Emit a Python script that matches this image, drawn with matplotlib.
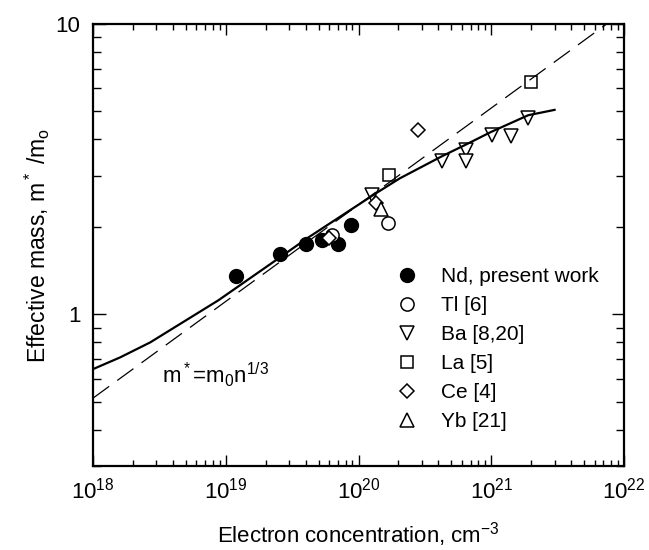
import matplotlib
matplotlib.use("Agg")
import matplotlib.pyplot as plt
from matplotlib.ticker import LogLocator, NullFormatter, FixedLocator, FixedFormatter

plt.rcParams["font.family"] = ["Liberation Sans", "DejaVu Sans"]
plt.rcParams["mathtext.fontset"] = "custom"
plt.rcParams["mathtext.rm"] = "Liberation Sans"
plt.rcParams["mathtext.it"] = "Liberation Sans"
plt.rcParams["mathtext.default"] = "regular"

# Nd, present work
nd_n = [1.19e19, 2.56e19, 4.0e19, 5.3e19, 7.0e19, 8.8e19]
nd_m = [1.35, 1.61, 1.75, 1.80, 1.75, 2.03]

# literature data
tl_n = [6.3e19, 1.68e20]
tl_m = [1.88, 2.06]

ba_n = [1.26e20, 4.24e20, 6.5e20, 6.5e20, 1.01e21, 1.40e21, 1.90e21]
ba_m = [2.58, 3.36, 3.69, 3.36, 4.15, 4.12, 4.73]

la_n = [1.70e20, 2.0e21]
la_m = [3.02, 6.29]

ce_n = [6.0e19, 1.35e20, 2.79e20]
ce_m = [1.83, 2.42, 4.31]

yb_n = [1.48e20]
yb_m = [2.31]

# solid model curve
fit_n = [1e18, 1.6e18, 2.7e18, 8.8e18, 2.56e19, 4.2e19, 1.37e20, 2.05e20,
         4.24e20, 6.5e20, 1.0e21, 1.9e21, 3.0e21]
fit_m = [0.647, 0.71, 0.80, 1.117, 1.57, 1.84, 2.62, 2.94,
         3.50, 3.85, 4.25, 4.85, 5.06]

# dashed m* = m0 n^(1/3) line, end points
dash_n = [1e18, 7.4e21]
dash_m = [0.514, 10.0]

x_ticks = [1e18, 1e19, 1e20, 1e21, 1e22]
x_labels = ["$10^{18}$", "$10^{19}$", "$10^{20}$", "$10^{21}$", "$10^{22}$"]
y_ticks = [1, 10]
y_labels = ["1", "10"]

fig = plt.figure(figsize=(6.49, 5.5), dpi=100)
ax = fig.add_axes([93 / 649, 1 - 466 / 550, 531 / 649, 442 / 550])

ax.set_xscale("log")
ax.set_yscale("log")
ax.set_xlim(1e18, 1e22)
ax.set_ylim(0.3, 10)

mk = dict(linestyle="none", markerfacecolor="white", markeredgecolor="black",
          markeredgewidth=1.1)

ax.plot(nd_n, nd_m, "o", color="black", markersize=10, linestyle="none",
        label="Nd, present work", zorder=3)
ax.plot(tl_n, tl_m, "o", markersize=9.5, label="Tl [6]", zorder=3, **mk)
ax.plot(ba_n, ba_m, "v", markersize=10, label="Ba [8,20]", zorder=3, **mk)
ax.plot(la_n, la_m, "s", markersize=8.5, label="La [5]", zorder=3, **mk)
ax.plot(ce_n, ce_m, "D", markersize=7.5, label="Ce [4]", zorder=3, **mk)
ax.plot(yb_n, yb_m, "^", markersize=10, label="Yb [21]", zorder=3, **mk)

ax.plot(fit_n, fit_m, color="black", linewidth=1.6, zorder=4)
ax.plot(dash_n, dash_m, color="black", linewidth=0.9, dashes=(16, 8), zorder=4)

ax.text(3.3e18, 0.58, "m$^*$=m$_0$n$^{1/3}$", fontsize=16,
        ha="left", va="baseline")

ax.xaxis.set_major_locator(FixedLocator(x_ticks))
ax.xaxis.set_major_formatter(FixedFormatter(x_labels))
ax.xaxis.set_minor_locator(LogLocator(base=10, subs=range(2, 10), numticks=20))
ax.xaxis.set_minor_formatter(NullFormatter())
ax.yaxis.set_major_locator(FixedLocator(y_ticks))
ax.yaxis.set_major_formatter(FixedFormatter(y_labels))
ax.yaxis.set_minor_locator(LogLocator(base=10, subs=range(2, 10), numticks=20))
ax.yaxis.set_minor_formatter(NullFormatter())

ax.tick_params(which="both", direction="in", top=True, right=True,
               width=1, labelsize=16)
ax.tick_params(axis="x", which="major", length=8, pad=8)
ax.tick_params(axis="x", which="minor", length=4)
ax.tick_params(axis="y", which="major", length=9, pad=9)
ax.tick_params(axis="y", which="minor", length=6)

for s in ax.spines.values():
    s.set_linewidth(1.6)

ax.set_xlabel("Electron concentration, cm$^{-3}$", fontsize=16)
ax.set_ylabel("Effective mass, m$^*$ /m$_o$", fontsize=16.5)
ax.xaxis.set_label_coords(0.5, -0.122)
ax.yaxis.set_label_coords(-0.078, 0.5)

ax.legend(loc="upper left", bbox_to_anchor=(0.5725, 0.45), frameon=False,
          fontsize=15, handlelength=1.0, handletextpad=1.1,
          labelspacing=0.48, borderpad=0, borderaxespad=0)

plt.savefig("out.png", dpi=100)
plt.close()
